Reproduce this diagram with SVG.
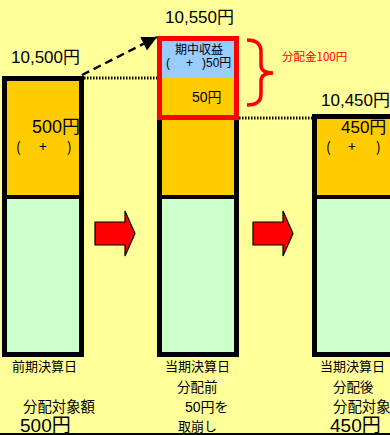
<svg xmlns="http://www.w3.org/2000/svg" width="390" height="435" viewBox="0 0 390 435">
<defs>
<style>
.t{font-family:"Liberation Sans","Noto Sans CJK JP",sans-serif;fill:#000}
.j{font-family:"Noto Sans CJK JP","Liberation Sans",sans-serif;fill:#000}
.bar{stroke:#000;stroke-width:5}
.div{stroke:#000;stroke-width:4}
.dot{stroke:#000;stroke-width:3;stroke-dasharray:1.5 1.5}
.blk{fill:#FF0000;stroke:#000;stroke-width:1.2}
</style>
<marker id="ah" viewBox="0 0 10 10" refX="10" refY="5" markerWidth="6" markerHeight="6" markerUnits="strokeWidth" orient="auto">
<path d="M0,0 L10,5 L0,10 z" fill="#000"/>
</marker>
</defs>
<rect width="390" height="435" fill="#FFFF99"/>

<g id="bar1">
<rect x="4.5" y="78.5" width="77" height="118.5" fill="#FFCC00"/>
<rect x="4.5" y="197" width="77" height="157.5" fill="#CCFFCC"/>
<line class="div" x1="4.5" y1="197" x2="81.5" y2="197"/>
<rect class="bar" x="4.5" y="78.5" width="77" height="276" fill="none"/>
<text class="t" x="11" y="63" font-size="17">10,500円</text>
<text class="t" x="32" y="133" font-size="18">500円</text>
<text class="j" font-size="14" y="152"><tspan x="16">(</tspan><tspan x="39">+</tspan><tspan x="67">)</tspan></text>
<text class="j" x="12" y="371" font-size="13">前期決算日</text>
<text class="j" x="23" y="412" font-size="14.4">分配対象額</text>
<text class="t" x="20" y="432" font-size="19">500円</text>
</g>

<g id="bar2">
<rect x="159.5" y="117.5" width="77" height="79.5" fill="#FFCC00"/>
<rect x="159.5" y="197" width="77" height="157.5" fill="#CCFFCC"/>
<line class="div" x1="159.5" y1="197" x2="236.5" y2="197"/>
<rect class="bar" x="159.5" y="117.5" width="77" height="237" fill="none"/>
<rect x="159.5" y="38.5" width="77" height="39.5" fill="#99CCFF"/>
<rect x="159.5" y="78" width="77" height="39.5" fill="#FFCC00"/>
<rect x="159.5" y="38.5" width="77" height="79" fill="none" stroke="#FF0000" stroke-width="5"/>
<text class="t" x="165" y="23" font-size="17">10,550円</text>
<text class="j" x="175" y="54" font-size="12">期中収益</text>
<text class="t" font-size="12" y="67"><tspan x="166">(</tspan><tspan x="186">+</tspan><tspan x="202">)50円</tspan></text>
<text class="t" x="192" y="102" font-size="14">50円</text>
<text class="j" x="165" y="371" font-size="13">当期決算日</text>
<text class="j" x="177" y="392" font-size="13.5">分配前</text>
<text class="t" x="185" y="412" font-size="14">50円を</text>
<text class="j" x="178" y="431" font-size="13">取崩し</text>
</g>

<g id="bar3">
<rect x="314.5" y="116.5" width="100" height="80.5" fill="#FFCC00"/>
<rect x="314.5" y="197" width="100" height="157.5" fill="#CCFFCC"/>
<line class="div" x1="314.5" y1="197" x2="392" y2="197"/>
<rect class="bar" x="314.5" y="116.5" width="100" height="238" fill="none"/>
<text class="t" x="321" y="106" font-size="17">10,450円</text>
<text class="t" x="341" y="133" font-size="17">450円</text>
<text class="j" font-size="14" y="152"><tspan x="326">(</tspan><tspan x="348">+</tspan><tspan x="376">)</tspan></text>
<text class="j" x="320" y="371" font-size="13">当期決算日</text>
<text class="j" x="333" y="392" font-size="13.5">分配後</text>
<text class="j" x="333" y="412" font-size="14.4">分配対象</text>
<text class="t" x="330" y="432" font-size="19">450円</text>
</g>

<g id="distribution">
<path d="M247,40 Q261,40 261,52 L261,65 Q261,73 273,73 Q261,73 261,81 L261,94 Q261,105 247,105" fill="none" stroke="#FF0000" stroke-width="3.5"/>
<text class="j" x="282" y="61" font-size="11.5" style="fill:#FF0000">分配金100円</text>
</g>

<g id="connectors">
<line x1="82" y1="75" x2="157" y2="37" stroke="#000" stroke-width="2.5" stroke-dasharray="8 5" marker-end="url(#ah)"/>
<line class="dot" x1="84" y1="78" x2="157" y2="78"/>
<line class="dot" x1="239" y1="118" x2="312" y2="118"/>
<polygon class="blk" points="95,222 125,222 125,211 135,233.5 125,256 125,245 95,245"/>
<polygon class="blk" points="253,222 283,222 283,211 293,233.5 283,256 283,245 253,245"/>
</g>
<line x1="0" y1="434" x2="390" y2="434" stroke="#000" stroke-width="2"/>
</svg>
